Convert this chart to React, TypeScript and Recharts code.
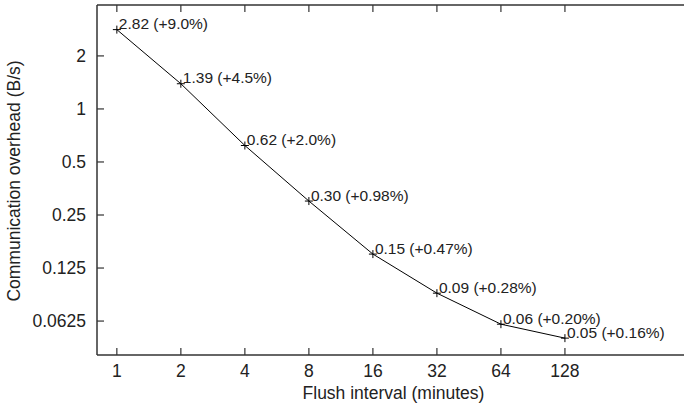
import React from "react";
import { LineChart, Line, XAxis, YAxis, LabelList } from "recharts";

const intervals = [1, 2, 4, 8, 16, 32, 64, 128];
const overhead = [2.82, 1.39, 0.62, 0.3, 0.15, 0.09, 0.06, 0.05];
const increase = ["+9.0%", "+4.5%", "+2.0%", "+0.98%", "+0.47%", "+0.28%", "+0.20%", "+0.16%"];
const xTicks = [1, 2, 4, 8, 16, 32, 64, 128];
const yTicks = [0.0625, 0.125, 0.25, 0.5, 1, 2];

const data = intervals.map((x, i) => ({
  x,
  y: overhead[i],
  label: `${overhead[i].toFixed(2)} (${increase[i]})`,
}));

const FONT = "'Liberation Sans', Arial, Helvetica, sans-serif";
const AXIS = "#333";
const TICK_LEN = 7;

const BottomTick = (props: any) => {
  const { x, y, payload } = props;
  return (
    <g>
      <line x1={x} x2={x} y1={y} y2={y - TICK_LEN} stroke={AXIS} strokeWidth={1.2} />
      <text x={x} y={y + 22} textAnchor="middle" fontSize={17.5} fontFamily={FONT} fill="#222">
        {payload.value}
      </text>
    </g>
  );
};

const TopTick = (props: any) => {
  const { x, y } = props;
  return <line x1={x} x2={x} y1={y} y2={y + TICK_LEN} stroke={AXIS} strokeWidth={1.2} />;
};

const LeftTick = (props: any) => {
  const { x, y, payload } = props;
  return (
    <g>
      <line x1={x} x2={x + TICK_LEN} y1={y} y2={y} stroke={AXIS} strokeWidth={1.2} />
      <text x={x - 11} y={y + 6.2} textAnchor="end" fontSize={17.5} fontFamily={FONT} fill="#222">
        {payload.value}
      </text>
    </g>
  );
};

const PlusDot = (props: any) => {
  const { cx, cy } = props;
  if (cx == null || cy == null) return null;
  return (
    <g>
      <line x1={cx - 4} x2={cx + 4} y1={cy} y2={cy} stroke="#000" strokeWidth={1} />
      <line x1={cx} x2={cx} y1={cy - 4} y2={cy + 4} stroke="#000" strokeWidth={1} />
    </g>
  );
};

const PointLabel = (props: any) => {
  const { x, y, value } = props;
  return (
    <text x={x + 2} y={y - 0.5} fontSize={15.5} fontFamily={FONT} fill="#222">
      {value}
    </text>
  );
};

const XLabel = (props: any) => {
  const { viewBox } = props;
  const cx = viewBox.x + viewBox.width / 2 + 3;
  return (
    <text x={cx} y={399} textAnchor="middle" fontSize={17.5} fontFamily={FONT} fill="#222">
      Flush interval (minutes)
    </text>
  );
};

const YLabel = (props: any) => {
  const { viewBox } = props;
  const cy = viewBox.y + viewBox.height / 2 + 1;
  return (
    <text
      x={20}
      y={cy}
      transform={`rotate(-90, 20, ${cy})`}
      textAnchor="middle"
      fontSize={17.5}
      fontFamily={FONT}
      fill="#222"
    >
      Communication overhead (B/s)
    </text>
  );
};

const xDomain = [Math.pow(2, -0.31), Math.pow(2, 8.86)];
const yDomain = [Math.pow(2, -4.64), Math.pow(2, 1.96)];

export default function App() {
  return (
    <div style={{ position: "absolute", left: 0, top: 0, background: "#fff" }}>
      <LineChart
        width={685}
        height={405}
        data={data}
        margin={{ top: 0, right: 1, bottom: 0, left: 0 }}
      >
        <XAxis
          dataKey="x"
          type="number"
          scale="log"
          domain={xDomain}
          ticks={xTicks}
          allowDataOverflow
          height={50}
          tickSize={0}
          tickMargin={0}
          tickLine={false}
          axisLine={{ stroke: AXIS, strokeWidth: 1.5 }}
          tick={<BottomTick />}
          interval={0}
          label={<XLabel />}
        />
        <XAxis
          xAxisId="top"
          dataKey="x"
          orientation="top"
          type="number"
          scale="log"
          domain={xDomain}
          ticks={xTicks}
          allowDataOverflow
          height={5}
          tickSize={0}
          tickMargin={0}
          tickLine={false}
          axisLine={{ stroke: AXIS, strokeWidth: 1.5 }}
          tick={<TopTick />}
          interval={0}
        />
        <YAxis
          dataKey="y"
          type="number"
          scale="log"
          domain={yDomain}
          ticks={yTicks}
          allowDataOverflow
          width={97}
          tickSize={0}
          tickMargin={0}
          tickLine={false}
          axisLine={{ stroke: AXIS, strokeWidth: 1.5 }}
          tick={<LeftTick />}
          interval={0}
          label={<YLabel />}
        />
        <Line
          dataKey="y"
          stroke="#000"
          strokeWidth={1}
          dot={<PlusDot />}
          activeDot={false}
          isAnimationActive={false}
        >
          <LabelList dataKey="label" content={<PointLabel />} />
        </Line>
      </LineChart>
    </div>
  );
}
